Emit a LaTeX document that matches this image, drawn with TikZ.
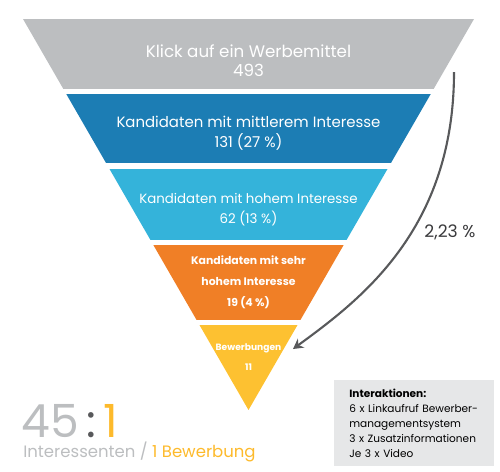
\documentclass[tikz,border=0pt]{standalone}
\usepackage{fontspec}
\setmainfont{Poppins}
\usepackage{tikz}
\usetikzlibrary{arrows.meta}

\definecolor{klickgray}{HTML}{BCBEC0}
\definecolor{mittelblue}{HTML}{1C7DB4}
\definecolor{hochcyan}{HTML}{34B3DA}
\definecolor{sehrorange}{HTML}{F07F26}
\definecolor{bewyellow}{HTML}{FDC131}
\definecolor{boxgray}{HTML}{E6E7E8}
\definecolor{darkgray}{HTML}{58595B}
\definecolor{textdark}{HTML}{3A3A3C}
\definecolor{ratioyellow}{HTML}{FDBA2C}

\tikzset{
  bandtext/.style={text=white, align=center, inner sep=0pt},
  arrowline/.style={draw=darkgray, line width=1.2pt, -{Stealth[length=0.2cm, width=0.22cm]}},
  infobox/.style={fill=boxgray, text=black, align=left, text width=2.6cm,
    inner xsep=0.3cm, inner ysep=0pt, minimum width=3.2cm, minimum height=1.72cm,
    font=\fontsize{6}{8.5}\selectfont}
}

\begin{document}
\begin{tikzpicture}[x=0.02cm, y=-0.02cm]
  \useasboundingbox (0,0) rectangle (500,471);

  \begin{scope}
    \clip (23,19) -- (474,19) -- (248.5,410) -- cycle;
    \fill[klickgray] (0,19) rectangle (500,89);
    \fill[mittelblue] (0,94) rectangle (500,163);
    \fill[hochcyan] (0,169) rectangle (500,240);
    \fill[sehrorange] (0,245) rectangle (500,320);
    \fill[bewyellow] (0,325) rectangle (500,410);
  \end{scope}

  \node[bandtext, font=\fontsize{9.5}{10.8}\selectfont] (klick) at (248.5,61)
    {Klick auf ein Werbemittel\\493};
  \node[bandtext, font=\fontsize{8.5}{11.3}\selectfont] (mittel) at (248.5,133)
    {Kandidaten mit mittlerem Interesse\\131 (27 \%)};
  \node[bandtext, font=\fontsize{7.6}{11.3}\selectfont] (hoch) at (248.5,210)
    {Kandidaten mit hohem Interesse\\62 (13 \%)};
  \node[bandtext, font=\bfseries\fontsize{6.2}{11.9}\selectfont] (sehrhoch) at (248.5,282.5)
    {Kandidaten mit sehr\\hohem Interesse\\19 (4 \%)};
  \node[bandtext, font=\bfseries\fontsize{5.2}{11.3}\selectfont] (bewerb) at (248.5,357)
    {Bewerbungen\\11};

  \coordinate (arrstart) at (454,72);
  \coordinate (arrtip) at (293,349);
  \draw[arrowline] (arrstart) .. controls (454,230) and (360,300) .. (arrtip);
  \node[text=textdark, font=\fontsize{9.8}{11}\selectfont] (quote) at (450,232) {2,23 \%};

  \node[anchor=base west, inner sep=0pt, font=\fontsize{26}{28}\selectfont] (ratio) at (21,437)
    {\textcolor{klickgray}{45}\,\textcolor{darkgray}{:}\,\textcolor{ratioyellow}{1}};
  \node[anchor=base west, inner sep=0pt, font=\fontsize{9.4}{11}\selectfont] (ratiolabel) at (23,457)
    {\textcolor{klickgray}{Interessenten /} \textcolor{ratioyellow}{1 Bewerbung}};

  \node[infobox, anchor=north west] (interakt) at (334,380)
    {\textbf{Interaktionen:}\\6 x Linkaufruf Bewerber-\\managementsystem\\3 x Zusatzinformationen\\Je 3 x Video};
\end{tikzpicture}
\end{document}
